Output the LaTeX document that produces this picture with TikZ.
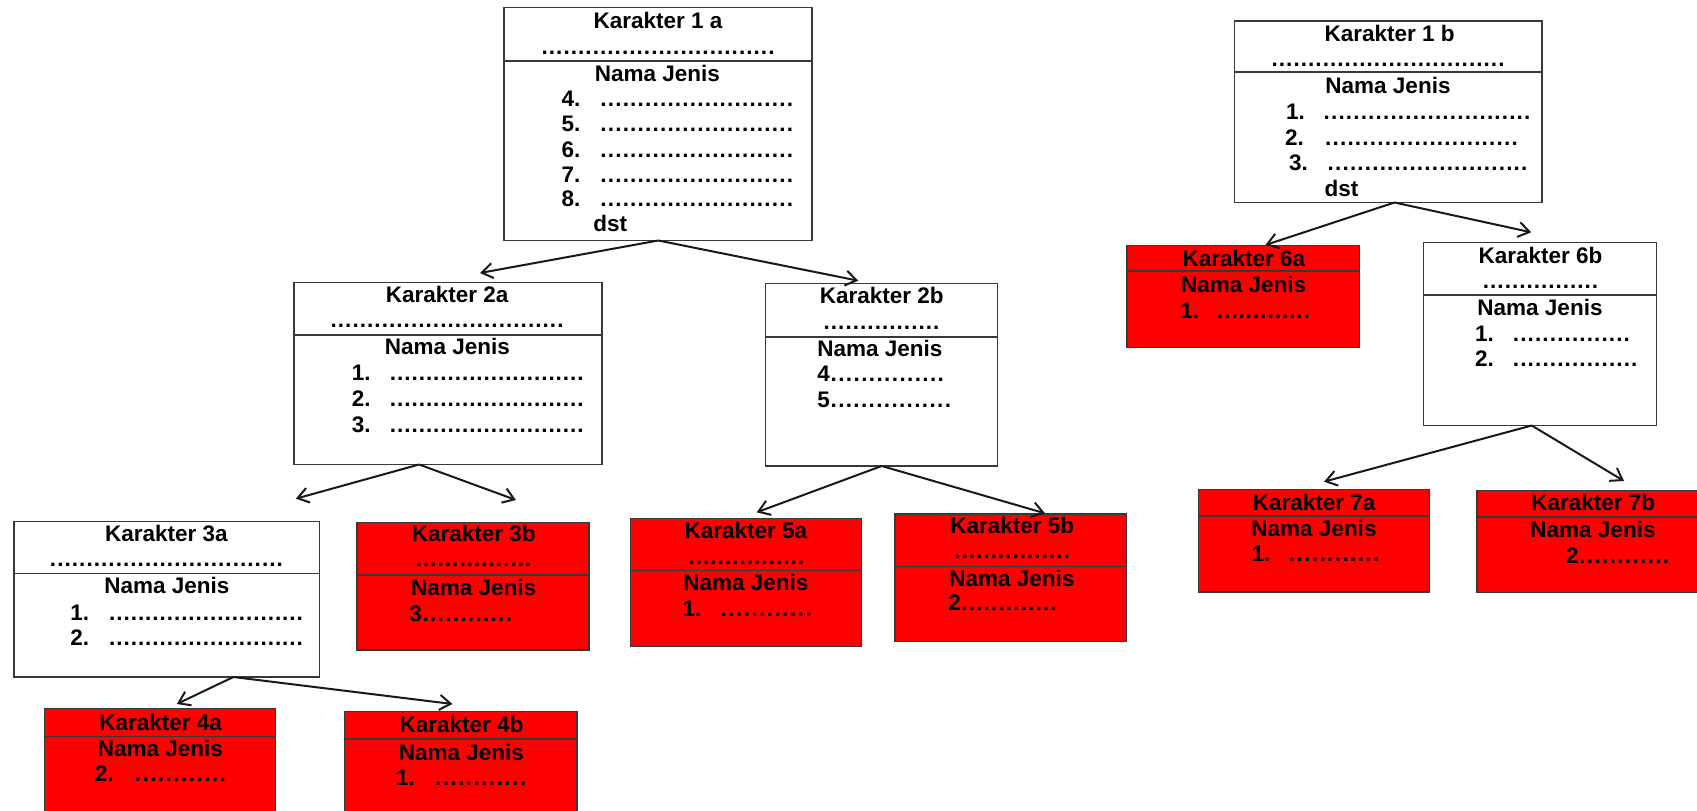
\documentclass[tikz,border=0pt]{standalone}
\usepackage{fontspec}
\setmainfont{Liberation Sans}
\usetikzlibrary{arrows.meta}
\newcommand\dts[1]{\hbox to #1pt{\xleaders\hbox to 7.2pt{\hss.\hss}\hfill}}
\newcommand\mytc[4]{\node[txt,anchor=base] (#1) at (#2,#3) {#4};}
\newcommand\mytl[4]{\node[txt,anchor=base west] (#1) at (#2,#3) {#4};}
\newcommand\mybox[7]{%
  \node[#1,minimum width=#5pt-#3pt,minimum height=#6pt-#4pt] (#2) at (#3,#4) {};
  \draw[divl] (#3,#7) -- (#5,#7);}
\tikzset{
  wbox/.style={draw=black!78,line width=1.9pt,rectangle,inner sep=0,outer sep=0,anchor=north west,fill=white},
  rbox/.style={wbox,fill=red},
  divl/.style={draw=black!78,line width=1.9pt},
  txt/.style={inner sep=0,outer sep=0,font=\fontsize{22.5}{27}\selectfont\bfseries},
  arr/.style={-{Straight Barb[length=11pt,width=15pt,line width=2pt]},line width=2pt,black!90},
}
\begin{document}
\begin{tikzpicture}[x=1pt,y=-1pt]
\clip (0,0) rectangle (1697,811);
\fill[white] (0,0) rectangle (1697,811);

% boxes
\mybox{wbox}{b1a}{504}{7.5}{812}{240.5}{61}
\mybox{wbox}{b1b}{1234.5}{21}{1542}{202.5}{72}
\mybox{wbox}{b2a}{294}{282.5}{602}{464.5}{335}
\mybox{wbox}{b2b}{765.5}{283.5}{997.5}{466}{337}
\mybox{wbox}{b3a}{14}{521.5}{319.5}{677}{573.5}
\mybox{rbox}{b3b}{357}{522.5}{589}{650}{575}
\mybox{rbox}{b4a}{44.5}{708.5}{275.5}{830}{736.5}
\mybox{rbox}{b4b}{344.5}{711.5}{577}{830}{739}
\mybox{rbox}{b5a}{630.5}{518.5}{861.5}{646.5}{570.5}
\mybox{rbox}{b5b}{895}{514}{1126.5}{641.5}{566.5}
\mybox{rbox}{b6a}{1127}{245.5}{1359.5}{347.5}{271}
\mybox{wbox}{b6b}{1423.5}{242.5}{1656.5}{425.5}{295}
\mybox{rbox}{b7a}{1198.5}{489.5}{1429.5}{591.7}{516}
\mybox{rbox}{b7b}{1476.7}{490.5}{1720}{592.5}{516.7}

% apex and tip coordinates
\coordinate (p1a) at (658.3,240.5);
\coordinate (e1a1) at (480,273);
\coordinate (e1a2) at (858.3,280.7);
\coordinate (p1b) at (1394.5,202.5);
\coordinate (e1b1) at (1265.4,245);
\coordinate (e1b2) at (1531.2,232.3);
\coordinate (p2a) at (419.1,464.5);
\coordinate (e2a1) at (295.8,498.7);
\coordinate (e2a2) at (516,500);
\coordinate (p2b) at (881.7,466);
\coordinate (e2b1) at (756.7,512.3);
\coordinate (e2b2) at (1045,513.3);
\coordinate (p3a) at (233.4,677);
\coordinate (e3a1) at (176.8,704);
\coordinate (e3a2) at (452.4,704);
\coordinate (p6b) at (1531.7,425.5);
\coordinate (e6b1) at (1324,481.7);
\coordinate (e6b2) at (1624,481);

\draw[arr] (p1a) -- (e1a1);
\draw[arr] (p1a) -- (e1a2);
\draw[arr] (p1b) -- (e1b1);
\draw[arr] (p1b) -- (e1b2);
\draw[arr] (p2a) -- (e2a1);
\draw[arr] (p2a) -- (e2a2);
\draw[arr] (p2b) -- (e2b1);
\draw[arr] (p2b) -- (e2b2);
\draw[arr] (p3a) -- (e3a1);
\draw[arr] (p3a) -- (e3a2);
\draw[arr] (p6b) -- (e6b1);
\draw[arr] (p6b) -- (e6b2);

% 1a
\mytc{t1a}{658}{28.3}{Karakter 1 a}
\mytl{d1a}{541}{54}{\dts{234}}
\mytc{n1a}{657.5}{81}{Nama Jenis}
\mytl{k1a4}{561.7}{106}{4.}\mytl{l1a4}{599.7}{106}{\dts{194}}
\mytl{k1a5}{561.7}{131.5}{5.}\mytl{l1a5}{599.7}{131.5}{\dts{194}}
\mytl{k1a6}{561.7}{157}{6.}\mytl{l1a6}{599.7}{157}{\dts{194}}
\mytl{k1a7}{561.7}{182.5}{7.}\mytl{l1a7}{599.7}{182.5}{\dts{194}}
\mytl{k1a8}{561.7}{206.5}{8.}\mytl{l1a8}{599.7}{206.5}{\dts{194}}
\mytl{s1a}{593.3}{231}{dst}

% 1b
\mytc{t1b}{1389.7}{41.7}{Karakter 1 b}
\mytl{d1b}{1271}{66.7}{\dts{234}}
\mytc{n1b}{1388}{93.3}{Nama Jenis}
\mytl{k1b1}{1286}{119.3}{1.}\mytl{l1b1}{1323}{119.3}{\dts{208}}
\mytl{k1b2}{1285}{145.7}{2.}\mytl{l1b2}{1324.4}{145.7}{\dts{194}}
\mytl{k1b3}{1289}{170}{3.}\mytl{l1b3}{1327}{170}{\dts{201}}
\mytl{s1b}{1324.5}{196}{dst}

% 2a
\mytc{t2a}{447.2}{302.3}{Karakter 2a}
\mytl{d2a}{330}{327.3}{\dts{234}}
\mytc{n2a}{447.4}{354.3}{Nama Jenis}
\mytl{k2a1}{351.9}{380.7}{1.}\mytl{l2a1}{389.5}{380.7}{\dts{194.5}}
\mytl{k2a2}{351.9}{406.7}{2.}\mytl{l2a2}{389.5}{406.7}{\dts{194.5}}
\mytl{k2a3}{351.9}{432.7}{3.}\mytl{l2a3}{389.5}{432.7}{\dts{194.5}}

% 2b
\mytc{t2b}{881.7}{303.3}{Karakter 2b}
\mytl{d2b}{823}{329.3}{\dts{117}}
\mytl{n2b}{817.3}{356.7}{Nama Jenis}
\mytl{k2b4}{817.3}{381.7}{4\dts{115}}
\mytl{k2b5}{817.3}{407.7}{5\dts{122}}

% 3a
\mytc{t3a}{166.5}{541.7}{Karakter 3a}
\mytl{d3a}{49.4}{566}{\dts{234}}
\mytc{n3a}{166.9}{593.3}{Nama Jenis}
\mytl{k3a1}{70.4}{620}{1.}\mytl{l3a1}{108.7}{620}{\dts{194.6}}
\mytl{k3a2}{70.4}{645}{2.}\mytl{l3a2}{108.7}{645}{\dts{194.6}}

% 3b
\mytc{t3b}{473.7}{541.7}{Karakter 3b}
\mytl{d3b}{415.2}{566.7}{\dts{116.7}}
\mytc{n3b}{473.6}{595}{Nama Jenis}
\mytl{k3b3}{409.3}{621.7}{3\dts{91}}

% 4a
\mytc{t4a}{160.7}{730.7}{Karakter 4a}
\mytc{n4a}{160.4}{756.7}{Nama Jenis}
\mytl{k4a2}{94.9}{781.7}{2.}\mytl{l4a2}{133.9}{781.7}{\dts{93}}

% 4b
\mytc{t4b}{461.5}{732.3}{Karakter 4b}
\mytc{n4b}{461.5}{760}{Nama Jenis}
\mytl{k4b1}{396.1}{785}{1.}\mytl{l4b1}{434.3}{785}{\dts{92.7}}

% 5a
\mytc{t5a}{745.8}{538.3}{Karakter 5a}
\mytl{d5a}{688}{564}{\dts{116.7}}
\mytc{n5a}{746}{590.7}{Nama Jenis}
\mytl{k5a1}{682.7}{616.7}{1.}\mytl{l5a1}{719.7}{616.7}{\dts{93}}

% 5b
\mytc{t5b}{1012.2}{533.3}{Karakter 5b}
\mytl{d5b}{954}{558.3}{\dts{116.3}}
\mytc{n5b}{1012}{586.7}{Nama Jenis}
\mytl{k5b2}{948.3}{610.7}{2\dts{96.5}}

% 6a
\mytc{t6a}{1243.8}{266}{Karakter 6a}
\mytc{n6a}{1243.6}{292.7}{Nama Jenis}
\mytl{k6a1}{1180.4}{318.3}{1.}\mytl{l6a1}{1216.6}{318.3}{\dts{93.8}}

% 6b
\mytc{t6b}{1540.5}{263.3}{Karakter 6b}
\mytl{d6b}{1482.4}{288.3}{\dts{116.3}}
\mytc{n6b}{1540}{315}{Nama Jenis}
\mytl{k6b1}{1475}{341.7}{1.}\mytl{l6b1}{1512.3}{341.7}{\dts{118.2}}
\mytl{k6b2}{1475}{366.7}{2.}\mytl{l6b2}{1512.3}{366.7}{\dts{125.7}}

% 7a
\mytc{t7a}{1314.2}{510}{Karakter 7a}
\mytc{n7a}{1314}{536.7}{Nama Jenis}
\mytl{k7a1}{1251.7}{561.7}{1.}\mytl{l7a1}{1288}{561.7}{\dts{92.3}}

% 7b
\mytc{t7b}{1593.3}{510}{Karakter 7b}
\mytc{n7b}{1593}{537.3}{Nama Jenis}
\mytl{k7b2}{1566}{563.3}{2\dts{91.5}}
\end{tikzpicture}
\end{document}
